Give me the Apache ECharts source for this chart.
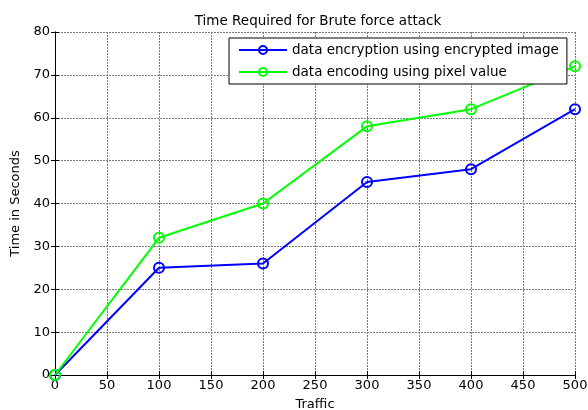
<!DOCTYPE html>
<html><head><meta charset="utf-8">
<script src="https://cdn.jsdelivr.net/npm/echarts@6/dist/echarts.min.js"></script>
<style>html,body{margin:0;padding:0;background:#fff}#c{width:588px;height:410px}</style>
</head><body><div id="c"></div>
<script>
const traffic = [0, 100, 200, 300, 400, 500];
const encryptedImage = [0, 25, 26, 45, 48, 62];
const pixelValue = [0, 32, 40, 58, 62, 72];
const seriesNames = ['data encryption using encrypted image', 'data encoding using pixel value'];
const titleText = 'Time Required for Brute force attack';
const xName = 'Traffic';
const yName = 'Time in Seconds';

const font = 'DejaVu Sans';
const fs = 13.5;
const chart = echarts.init(document.getElementById('c'), null, {renderer: 'canvas'});
const tickStyle = {show: true, inside: true, length: 4, lineStyle: {color: '#000'}};
const gridLine = {show: true, lineStyle: {color: '#7a7a7a', type: [2, 1], width: 1}};
function mk(name, data, color) {
  return {
    name, type: 'line', data: traffic.map((t, i) => [t, data[i]]),
    symbol: 'circle', symbolSize: 10,
    lineStyle: {color, width: 2},
    itemStyle: {color: 'rgba(0,0,0,0)', borderColor: color, borderWidth: 2},
    emphasis: {disabled: true}, animation: false, z: 3
  };
}
chart.setOption({
  animation: false,
  backgroundColor: '#fff',
  title: {text: titleText, left: 313, top: 9, textAlign: 'center',
    textStyle: {fontFamily: font, fontSize: fs, fontWeight: 'normal', color: '#000'}},
  grid: {left: 55, right: 13, top: 32, bottom: 35, show: false, containLabel: false, outerBoundsMode: 'none'},
  legend: {
    orient: 'vertical', left: 229, top: 38,
    padding: [5, 8, 5, 9], itemWidth: 48, itemHeight: 10, itemGap: 8,
    borderColor: '#000', borderWidth: 1, backgroundColor: '#fff',
    textStyle: {fontFamily: font, fontSize: fs, color: '#000'},
    data: seriesNames
  },
  xAxis: [{
    type: 'value', min: 0, max: 500, interval: 50, position: 'bottom',
    name: xName, nameLocation: 'middle', nameGap: 23,
    nameTextStyle: {fontFamily: font, fontSize: 13, color: '#000'},
    axisLine: {show: true, lineStyle: {color: '#000', width: 1}},
    axisTick: tickStyle,
    axisLabel: {fontFamily: font, fontSize: 13, color: '#000', margin: 4},
    splitLine: gridLine
  }, {
    type: 'value', min: 0, max: 500, interval: 50, position: 'top',
    axisLine: {show: true, lineStyle: {color: '#000', width: 1}},
    axisTick: tickStyle, axisLabel: {show: false}, splitLine: {show: false}
  }],
  yAxis: [{
    type: 'value', min: 0, max: 80, interval: 10, position: 'left',
    name: yName, nameLocation: 'middle', nameGap: 32, nameRotate: 90,
    nameTextStyle: {fontFamily: font, fontSize: 13, color: '#000'},
    axisLine: {show: true, lineStyle: {color: '#000', width: 1}},
    axisTick: tickStyle,
    axisLabel: {fontFamily: font, fontSize: 13, color: '#000', margin: 5},
    splitLine: gridLine
  }, {
    type: 'value', min: 0, max: 80, interval: 10, position: 'right',
    axisLine: {show: true, lineStyle: {color: '#000', width: 1}},
    axisTick: tickStyle, axisLabel: {show: false}, splitLine: {show: false}
  }],
  series: [mk(seriesNames[0], encryptedImage, '#0000ff'), mk(seriesNames[1], pixelValue, '#00ff00')]
});
</script></body></html>
